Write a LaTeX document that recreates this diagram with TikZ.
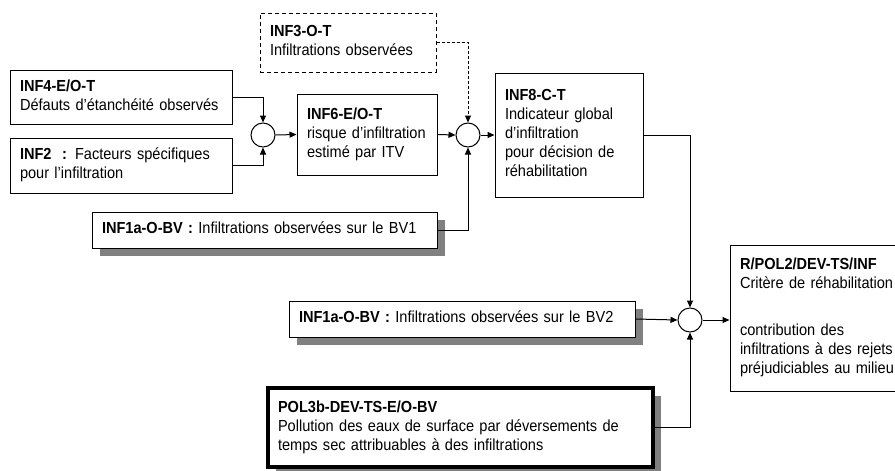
\documentclass[tikz,border=0pt]{standalone}
\usepackage{fontspec}
\setmainfont{Liberation Sans}[FakeStretch=0.91]
\usetikzlibrary{arrows.meta,shadows}
% stack of left-aligned lines that never wraps inside a box
\newcommand{\boxlines}[1]{\begin{tabular}{@{}l@{}}#1\end{tabular}}
\begin{document}
\begin{tikzpicture}[x=1pt,y=-1pt,
  font=\fontsize{16}{19}\selectfont,
  box/.style={draw, line width=1pt, fill=white, align=left,
    inner xsep=10pt, inner ysep=0pt},
  shadowed/.style={drop shadow={shadow xshift=8pt, shadow yshift=-8pt,
    fill=black!50, opacity=1}},
  junction/.style={circle, draw, line width=1pt, fill=white,
    minimum size=24pt, inner sep=0pt},
  link/.style={line width=1pt, -{Triangle[length=7pt,width=6pt]}},
  dashedlink/.style={link, dash pattern=on 3pt off 2pt}
]
\useasboundingbox (0,0) rectangle (895,471);
\fill[white] (0,0) rectangle (895,471);
\clip (0,0) rectangle (895,471);

% input indicators
\node[box, dash pattern=on 4pt off 3pt, minimum width=176pt, minimum height=59pt,
  text width=156pt] (inf3) at (348,42.5)
  {\boxlines{\textbf{INF3-O-T}\\Infiltrations observées}};
\node[box, minimum width=222pt, minimum height=54pt, text width=202pt]
  (inf4) at (121,97)
  {\boxlines{\textbf{INF4-E/O-T}\\Défauts d’étanchéité observés}};
\node[box, minimum width=222pt, minimum height=55pt, text width=202pt]
  (inf2) at (121,165.5)
  {\boxlines{\textbf{INF2\ \ :} Facteurs spécifiques\\pour l’infiltration}};
\node[box, minimum width=140pt, minimum height=81pt, text width=120pt]
  (inf6) at (367,134.5)
  {\boxlines{\textbf{INF6-E/O-T}\\risque d’infiltration\\estimé par ITV}};
\node[box, minimum width=148pt, minimum height=124pt, text width=128pt]
  (inf8) at (569,135)
  {\boxlines{\textbf{INF8-C-T}\\Indicateur global\\d’infiltration\\pour décision de\\réhabilitation}};
\node[box, shadowed, minimum width=345pt, minimum height=36pt, text width=325pt]
  (bv1) at (264.5,230)
  {\boxlines{\textbf{INF1a-O-BV :} Infiltrations observées sur le BV1}};
\node[box, shadowed, minimum width=346pt, minimum height=36pt, text width=326pt]
  (bv2) at (462,319)
  {\boxlines{\textbf{INF1a-O-BV :} Infiltrations observées sur le BV2}};
\node[box, shadowed, line width=3.5pt,
  minimum width=385pt, minimum height=79pt, text width=365pt]
  (pol3b) at (460.5,427.5)
  {\boxlines{\textbf{POL3b-DEV-TS-E/O-BV}\\Pollution des eaux de surface par déversements de\\temps sec attribuables à des infiltrations}};
\node[box, minimum width=185pt, minimum height=146pt, text width=165pt]
  (rpol) at (822.5,318)
  {\boxlines{\textbf{R/POL2/DEV-TS/INF}\\Critère de réhabilitation\\[28pt]contribution des\\infiltrations à des rejets\\préjudiciables au milieu}};

% combination points
\node[junction] (c1) at (263,135) {};
\node[junction] (c2) at (468,135) {};
\node[junction] (c3) at (690,320) {};

% connectors
\draw[link] (inf4.east) -| (c1.north);
\draw[link] (inf2.east) -| (c1.south);
\draw[link] (c1.east) -- (inf6.west);
\draw[link] (inf6.east) -- (c2.west);
\draw[dashedlink] (inf3.east) -| (c2.north);
\draw[link] (bv1.east) -| (c2.south);
\draw[link] (c2.east) -- (inf8.west);
\draw[link] (inf8.east) -| (c3.north);
\draw[link] (bv2.east) -- (c3.west);
\draw[link] (pol3b.east) -| (c3.south);
\draw[link] (c3.east) -- (c3.east -| rpol.west);
\end{tikzpicture}
\end{document}
